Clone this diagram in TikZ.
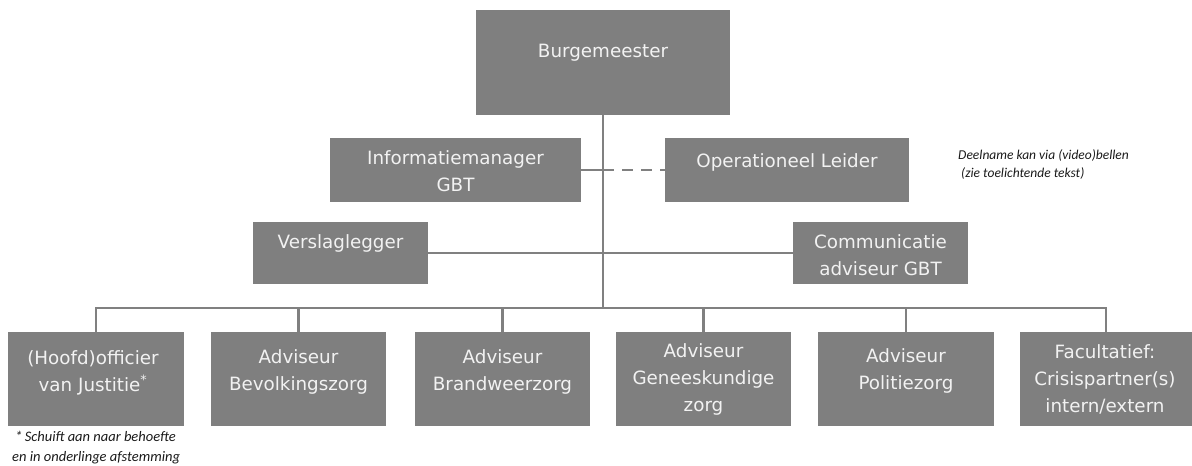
\documentclass[tikz,border=0pt]{standalone}
\usepackage{fontspec}
\setmainfont{DejaVu Sans}
\newfontfamily\notefont{Carlito}
\definecolor{boxgray}{HTML}{7F7F7F}
\definecolor{linegray}{HTML}{808080}
\definecolor{boxtext}{HTML}{F2F2F2}
\definecolor{notetext}{HTML}{1A1A1A}
\begin{document}
\begin{tikzpicture}[x=1pt,y=-1pt,
  orgbox/.style={fill=boxgray, draw=none, inner sep=0pt, outer sep=0pt, rectangle},
  boxlabel/.style={text=boxtext, align=center, inner sep=0pt, font=\fontsize{18.3}{27}\selectfont},
  conn/.style={draw=linegray, line width=2.7pt},
  dashconn/.style={conn, dash pattern=on 10.5pt off 8.5pt},
  notelabel/.style={text=notetext, align=left, inner sep=0pt, anchor=west}
]
\useasboundingbox (0,0) rectangle (1192,466);

% boxes
\node[orgbox, minimum width=254pt, minimum height=105pt] (burg) at (603,62.5) {};
\node[orgbox, minimum width=251pt, minimum height=64pt] (info) at (455.5,170) {};
\node[orgbox, minimum width=244pt, minimum height=64pt] (ol) at (787,170) {};
\node[orgbox, minimum width=175pt, minimum height=62pt] (vers) at (340.5,253) {};
\node[orgbox, minimum width=175pt, minimum height=62pt] (comm) at (880.5,253) {};
\node[orgbox, minimum width=176pt, minimum height=94pt] (b1) at (96,379) {};
\node[orgbox, minimum width=175pt, minimum height=94pt] (b2) at (298.5,379) {};
\node[orgbox, minimum width=175pt, minimum height=94pt] (b3) at (502.5,379) {};
\node[orgbox, minimum width=175pt, minimum height=94pt] (b4) at (703.5,379) {};
\node[orgbox, minimum width=176pt, minimum height=94pt] (b5) at (906,379) {};
\node[orgbox, minimum width=172pt, minimum height=94pt] (b6) at (1106,379) {};

% texts
\node[boxlabel] (tburg) at (603,53) {Burgemeester};
\node[boxlabel] (tinfo) at (455.5,171.5) {Informatiemanager\\GBT};
\node[boxlabel] (tol) at (787,162) {Operationeel Leider};
\node[boxlabel] (tvers) at (340.5,243) {Verslaglegger};
\node[boxlabel] (tcomm) at (880.5,255) {Communicatie\\adviseur GBT};
\node[boxlabel] (tb1) at (93,372.5) {(Hoofd)officier\\van Justitie\textsuperscript{*}};
\node[boxlabel] (tb2) at (298.5,371.5) {Adviseur\\Bevolkingszorg};
\node[boxlabel] (tb3) at (502.5,371.5) {Adviseur\\Brandweerzorg};
\node[boxlabel] (tb4) at (703.5,379) {Adviseur\\Geneeskundige\\zorg};
\node[boxlabel] (tb5) at (906,370.5) {Adviseur\\Politiezorg};
\node[boxlabel] (tb6) at (1105,379) {Facultatief:\\Crisispartner(s)\\intern/extern};

% notes
\node[notelabel, font=\notefont\itshape\fontsize{13.5}{18}\selectfont] (note) at (958,164)
  {Deelname kan via (video)bellen\\\hspace*{3pt}(zie toelichtende tekst)};
\node[notelabel, font=\notefont\itshape\fontsize{14.5}{20}\selectfont] (foot) at (12,448)
  {\hspace*{3pt}*\,Schuift aan naar behoefte\\en in onderlinge afstemming};

% connectors
\coordinate (bus) at (603,308);
\draw[conn] (burg.south) -- (bus);
\draw[conn] (b1.north) |- (bus) -| (b6.north);
\foreach \b in {b2,b3,b4,b5} { \draw[conn] (\b.north) -- (\b.north |- bus); }
\draw[conn] (info.east) -- (info.east -| bus);
\draw[dashconn] (info.east -| bus) -- (ol.west);
\draw[conn] (vers.east) -- (comm.west);
\end{tikzpicture}
\end{document}
